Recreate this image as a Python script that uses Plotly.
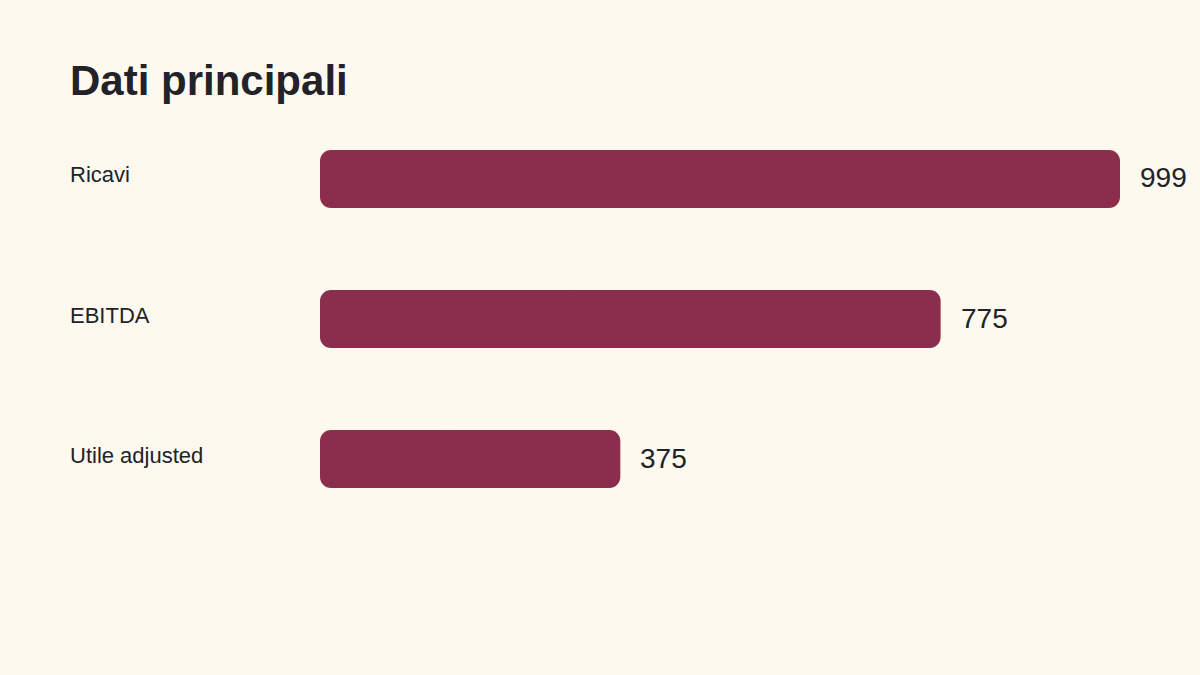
import plotly.graph_objects as go

# Data
categories = ["Ricavi", "EBITDA", "Utile adjusted"]
values = [999, 775, 375]
title_text = "Dati principali"

W, H = 1200, 675
BG = "#fdf9ef"
BAR = "#8b2e4e"
INK = "#222228"
FONT = "Liberation Sans, Arial, sans-serif"

# plotly only rounds the far end of a bar, so each bar is drawn as two
# overlapping halves growing away from the middle -> both ends rounded
left_part = [-v * 0.6 for v in values]
left_base = [v * 0.6 for v in values]
right_part = [v * 0.6 for v in values]
right_base = [v * 0.4 for v in values]

fig = go.Figure()
fig.add_trace(go.Bar(
    x=left_part, y=categories, base=left_base, orientation="h",
    marker=dict(color=BAR, line=dict(width=0)), width=0.414,
    hoverinfo="skip",
))
fig.add_trace(go.Bar(
    x=right_part, y=categories, base=right_base, orientation="h",
    marker=dict(color=BAR, line=dict(width=0)), width=0.414,
    customdata=values, hovertemplate="%{y}: %{customdata}<extra></extra>",
))

annotations = []
for cat, val in zip(categories, values):
    # value label right of the bar
    annotations.append(dict(
        x=val, y=cat, xref="x", yref="y",
        text=str(val), showarrow=False,
        xanchor="left", yanchor="middle", xshift=18, yshift=1,
        font=dict(family=FONT, size=28, color=INK),
    ))
    # category label on the left
    annotations.append(dict(
        x=70 / W, y=cat, xref="paper", yref="y",
        text=cat, showarrow=False,
        xanchor="left", yanchor="middle", xshift=-2, yshift=4,
        font=dict(family=FONT, size=22, color=INK),
    ))

fig.update_layout(
    width=W, height=H,
    paper_bgcolor=BG, plot_bgcolor=BG,
    margin=dict(l=0, r=0, t=0, b=0),
    barmode="overlay",
    barcornerradius=11,
    showlegend=False,
    title=dict(
        text=f"<b>{title_text}</b>",
        x=70 / W, xanchor="left",
        y=1 - 80 / H, yanchor="middle",
        font=dict(family=FONT, size=42, color=INK),
    ),
    xaxis=dict(
        domain=[320 / W, 1],
        range=[0, max(values) * 1.1],
        visible=False, fixedrange=True,
    ),
    yaxis=dict(
        domain=[1 - 529 / H, 1 - 109 / H],
        range=[2.5, -0.5],
        visible=False, fixedrange=True,
    ),
    annotations=annotations,
)

fig.write_html(
    "out.html",
    config={"displayModeBar": False},
    post_script=f"document.body.style.margin='0';document.body.style.background='{BG}';",
)
